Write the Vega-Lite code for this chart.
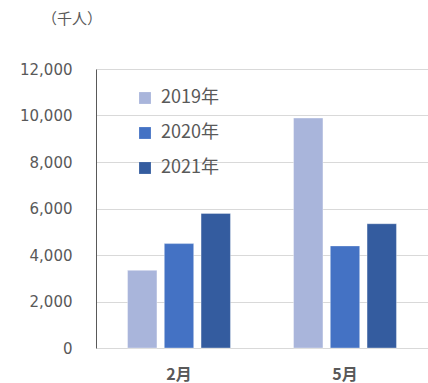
{
  "$schema": "https://vega.github.io/schema/vega-lite/v6.json",
  "width": 332,
  "height": 279,
  "autosize": {"type": "none"},
  "padding": {"left": 96, "top": 69, "right": 0, "bottom": 35},
  "background": "white",
  "title": {
    "text": "（千人）",
    "anchor": "start",
    "frame": "group",
    "dx": -54,
    "offset": 35,
    "font": "Noto Sans CJK JP",
    "fontSize": 15,
    "fontWeight": "normal",
    "color": "#595959"
  },
  "data": {
    "values": [
      {"month": "2月", "year": "2019年", "value": 3340},
      {"month": "2月", "year": "2020年", "value": 4490},
      {"month": "2月", "year": "2021年", "value": 5790},
      {"month": "5月", "year": "2019年", "value": 9890},
      {"month": "5月", "year": "2020年", "value": 4390},
      {"month": "5月", "year": "2021年", "value": 5345}
    ]
  },
  "mark": {"type": "bar", "stroke": "#ffffff", "strokeOpacity": 0.35, "strokeWidth": 1},
  "encoding": {
    "x": {
      "field": "month",
      "type": "nominal",
      "sort": ["2月", "5月"],
      "scale": {"paddingInner": 0.38, "paddingOuter": 0.19},
      "axis": {
        "title": null,
        "labelAngle": 0,
        "domain": false,
        "ticks": false,
        "labelFont": "Noto Sans CJK JP",
        "labelFontSize": 16,
        "labelFontWeight": "bold",
        "labelColor": "#595959",
        "labelPadding": 18
      }
    },
    "xOffset": {
      "field": "year",
      "type": "nominal",
      "sort": ["2019年", "2020年", "2021年"],
      "scale": {"paddingInner": 0.2, "paddingOuter": 0}
    },
    "y": {
      "field": "value",
      "type": "quantitative",
      "scale": {"domain": [0, 12000], "nice": false},
      "axis": {
        "title": null,
        "values": [0, 2000, 4000, 6000, 8000, 10000, 12000],
        "format": ",d",
        "ticks": false,
        "domain": true,
        "domainColor": "#595959",
        "domainWidth": 1,
        "grid": true,
        "gridColor": "#d9d9d9",
        "gridWidth": 1,
        "labelFont": "DejaVu Sans",
        "labelFontSize": 15,
        "labelColor": "#595959",
        "labelPadding": 24
      }
    },
    "color": {
      "field": "year",
      "type": "nominal",
      "sort": ["2019年", "2020年", "2021年"],
      "scale": {"domain": ["2019年", "2020年", "2021年"], "range": ["#A9B5DB", "#4472C4", "#345C9F"]},
      "legend": {
        "title": null,
        "orient": "none",
        "legendX": 40,
        "legendY": 20,
        "symbolType": "square",
        "symbolSize": 140,
        "symbolStrokeWidth": 0,
        "labelFont": "Noto Sans CJK JP",
        "labelFontSize": 18,
        "labelColor": "#595959",
        "labelOffset": 7,
        "rowPadding": 17
      }
    }
  },
  "config": {
    "view": {"stroke": null}
  }
}
